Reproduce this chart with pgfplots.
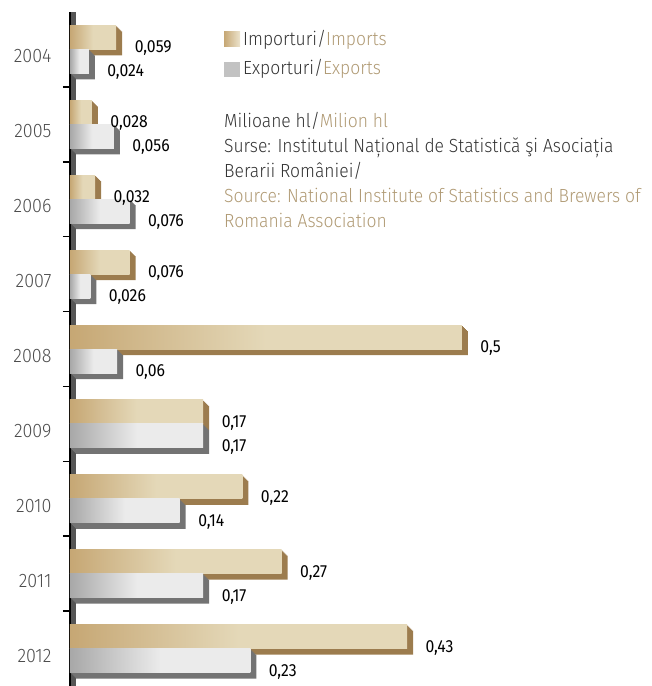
\documentclass[border=0pt]{standalone}
\usepackage{pgfplots}
\pgfplotsset{compat=1.18}
\usepackage{pgfplotstable}
\usepackage{fontspec}
\setmainfont{Fira Sans}[FakeStretch=0.9]
\newfontfamily\lightfont{Fira Sans Light}[FakeStretch=0.92]
\definecolor{gold}{HTML}{B09A74}
\definecolor{txt}{HTML}{333333}
\definecolor{yeartxt}{HTML}{4D4D4D}
\definecolor{impL}{HTML}{C6A774}
\definecolor{impR}{HTML}{E4D8B8}
\definecolor{impside}{HTML}{9C7C4E}
\definecolor{expL}{HTML}{A8A8A8}
\definecolor{expR}{HTML}{EBEBEB}
\definecolor{expside}{HTML}{737373}
\definecolor{wall}{HTML}{555555}
\pgfdeclarehorizontalshading{impshade}{100bp}{color(0bp)=(impL); color(25bp)=(impL); color(50bp)=(impR); color(100bp)=(impR)}
\pgfdeclarehorizontalshading{expshade}{100bp}{color(0bp)=(expL); color(25bp)=(expL); color(50bp)=(expR); color(100bp)=(expR)}

% Milioane hl, 2004..2012 plotted at 0..8
\pgfplotstableread{
y imp exp
0 0.059 0.024
1 0.028 0.056
2 0.032 0.076
3 0.076 0.026
4 0.5 0.06
5 0.17 0.17
6 0.22 0.14
7 0.27 0.17
8 0.43 0.23
}\data

\begin{document}
\begin{tikzpicture}
\path[use as bounding box] (0,0) rectangle (652pt,686pt);
\fill[wall] (70pt,0pt) rectangle (76pt,674pt);
\begin{axis}[
  at={(70pt,0pt)}, anchor=south west,
  scale only axis, width=580pt, height=674pt,
  xmin=0, xmax=0.74,
  ymin=-0.5, ymax=8.5, y dir=reverse,
  axis x line=none, axis y line*=left,
  y axis line style={black, line width=2pt, -},
  ytick={0,...,8},
  yticklabels={2004,2005,2006,2007,2008,2009,2010,2011,2012},
  minor ytick={0.5,1.5,...,7.5},
  major tick length=0pt, minor tick length=7pt, tick align=outside,
  minor tick style={black, line width=1.5pt},
  yticklabel style={font=\lightfont\fontsize{19.5}{19.5}\selectfont, text=yeartxt, xshift=-15pt, yshift=-7pt},
  xbar, bar width=24pt,
  clip=false,
  every node near coord/.append style={anchor=west, xshift=15pt, yshift=-11pt, text=black, font=\fontsize{17.5}{17.5}\selectfont},
  /pgf/number format/fixed,
  /pgf/number format/use comma,
  /pgf/number format/precision=3,
  /pgf/number format/assume math mode=true,
]
% side and bottom faces
\pgfplotsinvokeforeach{6,5,4,3,2,1}{
  \addplot[bar shift=12pt, draw=none, fill=impside, forget plot, xshift=#1pt, yshift=-#1pt] table[x=imp, y=y]{\data};
}
% front faces, one plot per bar so each gets its own shading
\pgfplotsinvokeforeach{0,...,8}{
  \addplot[bar shift=12pt, draw=none, shading=impshade, forget plot,
    y filter/.expression={abs(y-#1)<0.1 ? y : nan},
    nodes near coords, point meta=x]
    table[x=imp, y=y]{\data};
}
\pgfplotsinvokeforeach{6,5,4,3,2,1}{
  \addplot[bar shift=-12pt, draw=none, fill=expside, forget plot, xshift=#1pt, yshift=-#1pt] table[x=exp, y=y]{\data};
}
\pgfplotsinvokeforeach{0,...,8}{
  \addplot[bar shift=-12pt, draw=none, shading=expshade, forget plot,
    y filter/.expression={abs(y-#1)<0.1 ? y : nan},
    nodes near coords, point meta=x]
    table[x=exp, y=y]{\data};
}
\end{axis}
% legend
\fill[left color=impL, right color=impR!70!white] (224pt,639pt) rectangle (240pt,654pt);
\fill[fill=black!24] (224pt,609pt) rectangle (240pt,624pt);
\begin{scope}[every node/.style={anchor=base west, inner sep=0pt, text=txt, font=\lightfont\fontsize{19}{19}\selectfont}]
\node at (243pt,640pt) {Importuri/\textcolor{gold}{Imports}};
\node at (243pt,611pt) {Exporturi/\textcolor{gold}{Exports}};
\node at (224pt,558pt) {Milioane hl/\textcolor{gold}{Milion hl}};
\node at (224pt,533pt) {Surse: Institutul Național de Statistică şi Asociația};
\node at (224pt,508pt) {Berarii României/};
\node[text=gold] at (224pt,483pt) {Source: National Institute of Statistics and Brewers of};
\node[text=gold] at (224pt,458pt) {Romania Association};
\end{scope}
\end{tikzpicture}
\end{document}
